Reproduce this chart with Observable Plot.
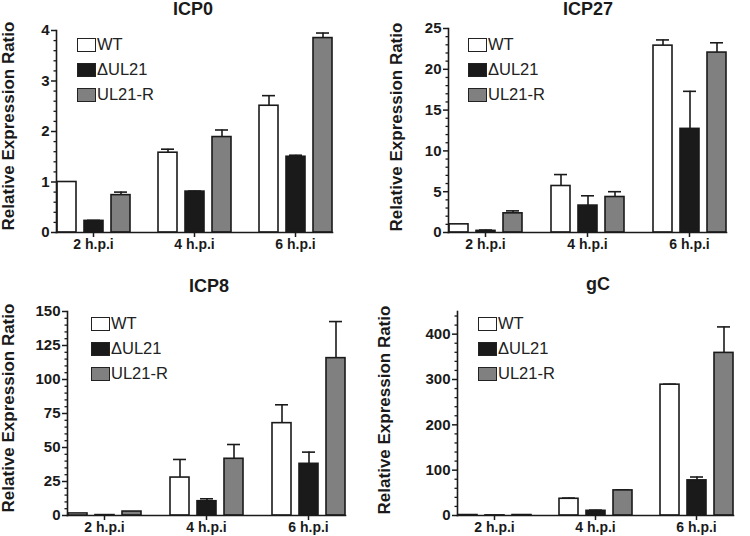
<!DOCTYPE html>
<html>
<head>
<meta charset="utf-8">
<script src="https://cdn.jsdelivr.net/npm/d3@7"></script>
<script src="https://cdn.jsdelivr.net/npm/@observablehq/plot@0.6"></script>
<style>
  html, body { margin: 0; padding: 0; background: #fff; }
  #root { position: relative; width: 750px; height: 536px; font-family: "Liberation Sans", Arial, sans-serif; color: #1a1a1a; }
  .panel { position: absolute; width: 375px; height: 268px; }
  .panel svg { position: absolute; left: 0; top: 0; overflow: visible; }
  .title { position: absolute; font-weight: bold; font-size: 18px; line-height: 18px; transform: translateX(-50%); white-space: nowrap; }
  .ylab { position: absolute; font-weight: bold; font-size: 17px; line-height: 17px; white-space: nowrap; transform: translate(-50%, -50%) rotate(-90deg); }
  .legend { position: absolute; }
  .legend .row { display: flex; align-items: center; height: 25px; }
  .legend .sw { width: 17px; height: 12px; border: 1.5px solid #222; margin-right: 1px; }
  .legend .lab { font-size: 16.5px; color: #222; }
</style>
</head>
<body>
<div id="root"></div>
<script>
// ---- data ----
const times = ["2 h.p.i", "4 h.p.i", "6 h.p.i"];
const strains = ["WT", "ΔUL21", "UL21-R"];
const strainColors = ["#ffffff", "#1a1a1a", "#808080"];

// ICP0
const icp0WT = [1.00, 1.58, 2.51];
const icp0WTErr = [0, 0.07, 0.20];
const icp0DUL21 = [0.23, 0.81, 1.50];
const icp0DUL21Err = [0.01, 0.01, 0.03];
const icp0R = [0.74, 1.89, 3.85];
const icp0RErr = [0.06, 0.14, 0.10];

// ICP27
const icp27WT = [1.0, 5.7, 22.9];
const icp27WTErr = [0, 1.4, 0.7];
const icp27DUL21 = [0.2, 3.3, 12.7];
const icp27DUL21Err = [0.1, 1.2, 4.6];
const icp27R = [2.35, 4.35, 22.05];
const icp27RErr = [0.3, 0.65, 1.2];

// ICP8
const icp8WT = [1.5, 27.9, 67.9];
const icp8WTErr = [0, 13.3, 13.5];
const icp8DUL21 = [0.3, 10.5, 38.0];
const icp8DUL21Err = [0, 1.8, 8.6];
const icp8R = [2.9, 41.7, 115.7];
const icp8RErr = [0, 10.5, 26.9];

// gC
const gcWT = [1, 36.9, 288.6];
const gcWTErr = [0, 1.5, 1];
const gcDUL21 = [0.3, 10.3, 77.5];
const gcDUL21Err = [0, 1.5, 7.4];
const gcR = [1, 55.4, 358.7];
const gcRErr = [0, 1, 57.3];

const yLabel = "Relative Expression Ratio";

// ---- drawing ----
const root = d3.select("#root");

function drawPanel(cfg) {
  const rows = [];
  times.forEach((t, i) => {
    strains.forEach((s, j) => {
      rows.push({time: t, strain: s, value: cfg.values[j][i], err: cfg.errs[j][i]});
    });
  });
  const errRows = rows.filter(d => d.err > 0);
  const majors = d3.range(0, cfg.yMax + 1e-9, cfg.major).filter(v => v <= cfg.labelMax + 1e-9);
  const minors = d3.range(0, cfg.yMax + 1e-9, cfg.minor).filter(v => Math.abs(v / cfg.major - Math.round(v / cfg.major)) > 1e-6);
  const [mT, mR, mB, mL] = cfg.margin;

  const chart = Plot.plot({
    width: 375,
    height: 268,
    marginTop: mT, marginRight: mR, marginBottom: mB, marginLeft: mL,
    style: {fontFamily: '"Liberation Sans", Arial, sans-serif', color: "#1a1a1a", background: "transparent", overflow: "visible"},
    fx: {domain: times, paddingInner: cfg.pi, paddingOuter: cfg.po, label: null},
    x: {domain: strains, paddingInner: 0.3, paddingOuter: 0, axis: null},
    y: {domain: [0, cfg.yMax], label: null},
    color: {domain: strains, range: strainColors},
    marks: [
      Plot.axisY({ticks: minors, tickSize: 2.5, tickFormat: () => "", label: null, strokeWidth: 1.3}),
      Plot.axisY({ticks: majors, tickSize: 5, tickPadding: 2, fontSize: 15, fontWeight: "bold", label: null, strokeWidth: 1.5, tickFormat: d => String(Math.round(d))}),
      Plot.axisFx({anchor: "bottom", tickSize: 5, tickPadding: 2, fontSize: 14, fontWeight: "bold", label: null, strokeWidth: 1.5}),
      Plot.ruleX(errRows, {fx: "time", x: "strain", y1: "value", y2: d => d.value + d.err, stroke: "#1a1a1a", strokeWidth: 1.6}),
      Plot.tickY(errRows, {fx: "time", x: "strain", y: d => d.value + d.err, stroke: "#1a1a1a", strokeWidth: 1.6, insetLeft: 3, insetRight: 3}),
      Plot.barY(rows, {fx: "time", x: "strain", y: "value", fill: "strain", stroke: "#1a1a1a", strokeWidth: 1.6}),
      Plot.frame({anchor: "left", facet: "super", stroke: "#1a1a1a", strokeWidth: 1.6}),
      Plot.frame({anchor: "bottom", facet: "super", stroke: "#1a1a1a", strokeWidth: 1.6})
    ]
  });

  const p = root.append("div").attr("class", "panel")
    .style("left", cfg.left + "px").style("top", cfg.top + "px");
  p.node().appendChild(chart);
  p.append("div").attr("class", "title").text(cfg.title)
    .style("left", cfg.titleX + "px").style("top", cfg.titleY + "px");
  p.append("div").attr("class", "ylab").text(yLabel)
    .style("left", cfg.labX + "px").style("top", cfg.labY + "px");
  const lg = p.append("div").attr("class", "legend")
    .style("left", cfg.legX + "px").style("top", cfg.legY + "px");
  strains.forEach((s, j) => {
    const r = lg.append("div").attr("class", "row");
    r.append("div").attr("class", "sw").style("background", strainColors[j]);
    r.append("div").attr("class", "lab").text(s);
  });
}

drawPanel({
  title: "ICP0", left: 0, top: 0,
  values: [icp0WT, icp0DUL21, icp0R], errs: [icp0WTErr, icp0DUL21Err, icp0RErr],
  yMax: 4, labelMax: 4, major: 1, minor: 0.2,
  margin: [30, 27, 36, 40], pi: 0.267, po: 0.158,
  titleX: 193, titleY: 0, labX: 8, labY: 126, legX: 77, legY: 32
});
drawPanel({
  title: "ICP27", left: 375, top: 0,
  values: [icp27WT, icp27DUL21, icp27R], errs: [icp27WTErr, icp27DUL21Err, icp27RErr],
  yMax: 25, labelMax: 25, major: 5, minor: 1,
  margin: [28, 7, 36, 55], pi: 0.277, po: 0.167,
  titleX: 213, titleY: 0, labX: 21, labY: 127, legX: 93, legY: 32
});
drawPanel({
  title: "ICP8", left: 0, top: 268,
  values: [icp8WT, icp8DUL21, icp8R], errs: [icp8WTErr, icp8DUL21Err, icp8RErr],
  yMax: 150, labelMax: 150, major: 25, minor: 5,
  margin: [43, 13, 21, 50], pi: 0.278, po: 0.161,
  titleX: 209, titleY: 9, labX: 8, labY: 140, legX: 91, legY: 43
});
drawPanel({
  title: "gC", left: 375, top: 268,
  values: [gcWT, gcDUL21, gcR], errs: [gcWTErr, gcDUL21Err, gcRErr],
  yMax: 450, labelMax: 400, major: 100, minor: 20,
  margin: [43, 3, 21, 68], pi: 0.27, po: 0.136,
  titleX: 223, titleY: 7, labX: 9, labY: 142, legX: 103, legY: 43
});
</script>
</body>
</html>
